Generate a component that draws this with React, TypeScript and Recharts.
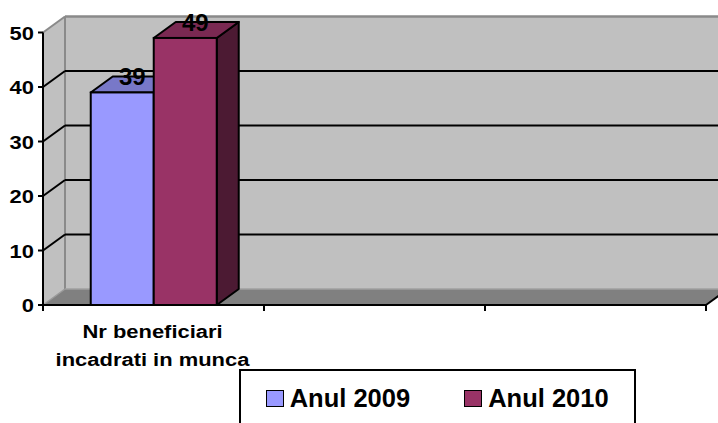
import React from 'react';
import { BarChart, Bar, XAxis, YAxis, CartesianGrid, Legend, LabelList } from 'recharts';

// ---- data ----
const categories = ['Nr beneficiari incadrati in munca', '', ''];
const categoryLines = [['Nr beneficiari', 'incadrati in munca'], [], []];
const seriesNames = ['Anul 2009', 'Anul 2010'];
const values2009 = [39, null, null];
const values2010 = [49, null, null];
const yTicks = [0, 10, 20, 30, 40, 50];

const data = categories.map((c, i) => ({
  id: `cat${i}`,
  category: c,
  a2009: values2009[i],
  a2010: values2010[i],
}));

// ---- style ----
const DX = 22;
const DY = 16;
const FONT = "'Liberation Sans', Arial, Helvetica, sans-serif";
const AXIS_STRETCH = 1.18;
const AXIS_FONT = 18.6;
const WALL = '#c0c0c0';
const FLOOR = '#808080';
const EDGE = '#8a8a8a';

const colors2009 = { front: '#9999ff', top: '#7878c8', side: '#5c5ca0' };
const colors2010 = { front: '#993366', top: '#7a2952', side: '#4c1a33' };

const make3DBar = (c: { front: string; top: string; side: string }) => (props: any) => {
  const { x, y, width, height, value } = props;
  if (value == null || !width || !(height > 0)) return <g />;
  const sw = 2;
  const top = `${x},${y} ${x + width},${y} ${x + width + DX},${y - DY} ${x + DX},${y - DY}`;
  const side = `${x + width},${y} ${x + width + DX},${y - DY} ${x + width + DX},${y + height - DY} ${x + width},${y + height}`;
  return (
    <g>
      <polygon points={side} fill={c.side} stroke="#000" strokeWidth={sw} strokeLinejoin="round" />
      <polygon points={top} fill={c.top} stroke="#000" strokeWidth={sw} strokeLinejoin="round" />
      <rect x={x} y={y} width={width} height={height} fill={c.front} stroke="#000" strokeWidth={sw} />
    </g>
  );
};

const renderGridLine = (props: any) => {
  const { x1, x2, y1, index, y, height } = props;
  const topY = y;
  const bottomY = y + height;
  const isTop = Math.abs(y1 - topY) < 0.5;
  const isBottom = Math.abs(y1 - bottomY) < 0.5;
  const walls =
    index === 0 ? (
      <g>
        <polygon
          points={`${x1},${topY} ${x1 + DX},${topY - DY} ${x1 + DX},${bottomY - DY} ${x1},${bottomY}`}
          fill={WALL}
        />
        <rect x={x1 + DX} y={topY - DY} width={x2 - x1} height={height} fill={WALL} />
        <polygon
          points={`${x1},${bottomY} ${x2},${bottomY} ${x2 + DX},${bottomY - DY} ${x1 + DX},${bottomY - DY}`}
          fill={FLOOR}
        />
        <line x1={x1 + DX} y1={topY - DY} x2={x1 + DX} y2={bottomY - DY} stroke={EDGE} strokeWidth={2} />
        <line x1={x2} y1={bottomY} x2={x2 + DX} y2={bottomY - DY} stroke="#000" strokeWidth={2} />
      </g>
    ) : null;
  let lines;
  if (isTop) {
    lines = (
      <g>
        <line x1={x1} y1={y1} x2={x1 + DX} y2={y1 - DY} stroke={EDGE} strokeWidth={2} />
        <line x1={x1 + DX} y1={y1 - DY} x2={x2 + DX} y2={y1 - DY} stroke={EDGE} strokeWidth={2.5} />
      </g>
    );
  } else if (isBottom) {
    lines = (
      <g>
        <line x1={x1} y1={y1} x2={x1 + DX} y2={y1 - DY} stroke="#9a9a9a" strokeWidth={1.5} />
        <line x1={x1 + DX} y1={y1 - DY} x2={x2 + DX} y2={y1 - DY} stroke="#a0a0a0" strokeWidth={1.5} />
      </g>
    );
  } else {
    lines = (
      <g>
        <line x1={x1} y1={y1} x2={x1 + DX} y2={y1 - DY} stroke="#000" strokeWidth={2} />
        <line x1={x1 + DX} y1={y1 - DY} x2={x2 + DX} y2={y1 - DY} stroke="#000" strokeWidth={2} />
      </g>
    );
  }
  return (
    <g key={`grid-${index}`}>
      {walls}
      {lines}
    </g>
  );
};

const YTick = (props: any) => {
  const { x, y, payload } = props;
  return (
    <text
      transform={`translate(${x},${y}) scale(${AXIS_STRETCH},1)`}
      x={0}
      y={7}
      textAnchor="end"
      fontFamily={FONT}
      fontWeight="bold"
      fontSize={AXIS_FONT}
      fill="#000"
    >
      {payload.value}
    </text>
  );
};

const XTick = (props: any) => {
  const { x, y, index, width } = props;
  const n = categories.length;
  const bw = width / n;
  const lines = categoryLines[index] || [];
  const left = x - bw / 2;
  return (
    <g>
      <line x1={left} y1={y} x2={left} y2={y + 6} stroke="#000" strokeWidth={2} />
      {index === n - 1 && <line x1={x + bw / 2} y1={y} x2={x + bw / 2} y2={y + 6} stroke="#000" strokeWidth={2} />}
      {lines.map((l, i) => (
        <text
          key={i}
          transform={`translate(${x - 1},${y + 33.3 + i * 27.7}) scale(${AXIS_STRETCH},1)`}
          x={0}
          y={0}
          textAnchor="middle"
          fontFamily={FONT}
          fontWeight="bold"
          fontSize={AXIS_FONT}
          fill="#000"
        >
          {l}
        </text>
      ))}
    </g>
  );
};

const renderLabel = (props: any) => {
  const { value } = props;
  if (value == null || value === '') return null;
  const vb = props.viewBox || {};
  const x = typeof props.x === 'number' ? props.x : vb.x;
  const y = typeof props.y === 'number' ? props.y : vb.y;
  const w = typeof props.width === 'number' ? props.width : vb.width;
  return (
    <text
      x={x + w / 2 + 10}
      y={y - 7}
      textAnchor="middle"
      fontFamily={FONT}
      fontWeight="bold"
      fontSize={24}
      fill="#000"
    >
      {value}
    </text>
  );
};

const renderLegend = (props: any) => {
  const payload = props.payload || [];
  return (
    <div
      style={{
        boxSizing: 'border-box',
        width: 397,
        height: 70,
        border: '2px solid #000',
        background: '#fff',
        display: 'flex',
        alignItems: 'flex-start',
        paddingLeft: 24.7,
        paddingTop: 14.5,
        fontFamily: FONT,
        fontWeight: 'bold',
        fontSize: 25.5,
        lineHeight: '25px',
        color: '#000',
      }}
    >
      {payload.map((p: any, i: number) => (
        <div
          key={i}
          style={{ display: 'flex', alignItems: 'center', height: 25, marginRight: 54, whiteSpace: 'nowrap' }}
        >
          <span
            style={{
              display: 'inline-block',
              width: 18,
              height: 17,
              boxSizing: 'border-box',
              border: '1.5px solid #000',
              background: p.color,
              marginRight: 6,
            }}
          />
          <span>{p.value}</span>
        </div>
      ))}
    </div>
  );
};

export default function App() {
  return (
    <div
      style={{
        position: 'absolute',
        left: 0,
        top: 0,
        width: 718,
        height: 423,
        overflow: 'hidden',
        background: '#fff',
      }}
    >
      <BarChart
        width={718}
        height={423}
        data={data}
        margin={{ top: 32.5, right: 12, left: 0, bottom: 0 }}
        barCategoryGap="21.6%"
        barGap={0}
      >
        <CartesianGrid vertical={false} horizontal={renderGridLine} />
        <XAxis
          dataKey="id"
          interval={0}
          height={118}
          axisLine={{ stroke: '#000', strokeWidth: 2 }}
          tickLine={false}
          tickSize={0}
          tickMargin={0}
          tick={XTick}
        />
        <YAxis
          type="number"
          domain={[0, 50]}
          ticks={yTicks}
          interval={0}
          width={43}
          axisLine={{ stroke: '#000', strokeWidth: 2 }}
          tickLine={{ stroke: '#000', strokeWidth: 2 }}
          tickSize={5}
          tickMargin={4}
          tick={YTick}
        />
        <Bar dataKey="a2009" name={seriesNames[0]} fill={colors2009.front} shape={make3DBar(colors2009)} isAnimationActive={false}>
          <LabelList dataKey="a2009" content={renderLabel} />
        </Bar>
        <Bar dataKey="a2010" name={seriesNames[1]} fill={colors2010.front} shape={make3DBar(colors2010)} isAnimationActive={false}>
          <LabelList dataKey="a2010" content={renderLabel} />
        </Bar>
        <Legend
          verticalAlign="middle"
          align="center"
          layout="horizontal"
          wrapperStyle={{ left: 239, top: 369, width: 397 }}
          content={renderLegend}
        />
      </BarChart>
    </div>
  );
}
